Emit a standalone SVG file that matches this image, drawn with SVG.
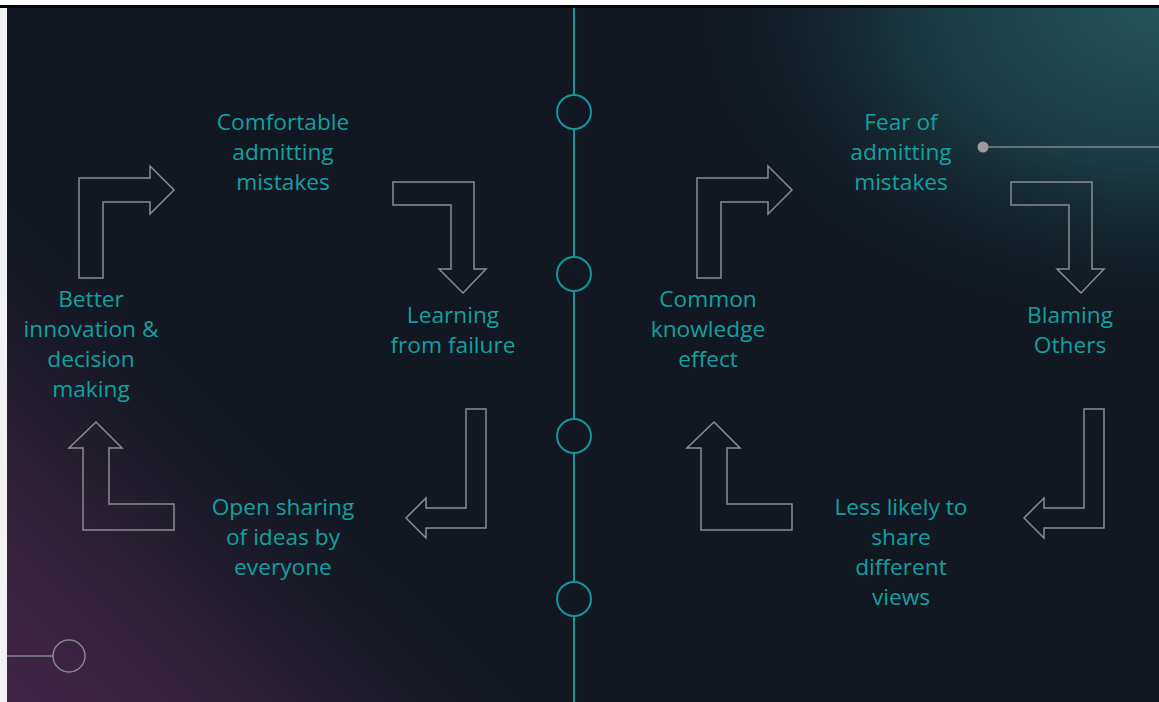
<svg xmlns="http://www.w3.org/2000/svg" width="1159" height="702" viewBox="0 0 1159 702">
  <defs>
    <radialGradient id="glowTeal" cx="1159" cy="8" r="500" gradientUnits="userSpaceOnUse" gradientTransform="translate(1159 8) scale(1 0.68) translate(-1159 -8)">
      <stop offset="0" stop-color="#235459"/>
      <stop offset="0.45" stop-color="#1b3c44"/>
      <stop offset="1" stop-color="#111822" stop-opacity="0"/>
    </radialGradient>
    <linearGradient id="glowPurple" x1="7" y1="702" x2="300" y2="400" gradientUnits="userSpaceOnUse">
      <stop offset="0" stop-color="#422647"/>
      <stop offset="0.45" stop-color="#2c1f33"/>
      <stop offset="1" stop-color="#111822" stop-opacity="0"/>
    </linearGradient>
    <style>
      .lbl { font-family: "Open Sans", "Noto Sans", sans-serif; font-size: 22.7px; fill: #13a0a1; text-anchor: middle; }
      .arrow { fill: none; stroke: #8a8d92; stroke-width: 1.5; stroke-linejoin: miter; }
      .hub { fill: #111822; stroke: #13979b; stroke-width: 2; }
      .accent { fill: none; stroke: #85878c; stroke-width: 1.5; }
    </style>
    <path id="bendUpRight" d="M79,278 L79,178 L150,178 L150,166 L174,190 L150,214 L150,202 L103,202 L103,278 Z"/>
    <path id="bendRightDown" d="M393,182 L474,182 L474,269 L486,269 L463,293 L439,269 L451,269 L451,205 L393,205 Z"/>
    <path id="bendDownLeft" d="M466,409 L486,409 L486,528 L426,528 L426,538 L406,518 L426,498 L426,508 L466,508 Z"/>
    <path id="bendLeftUp" d="M96,422 L122,448 L109,448 L109,504 L174,504 L174,530 L83,530 L83,448 L69,448 Z"/>
  </defs>

  <!-- page frame -->
  <rect x="0" y="0" width="1159" height="702" fill="#f2f2f2"/>
  <rect x="0" y="0" width="1159" height="6" fill="#ffffff"/>
  <rect x="0" y="5" width="1159" height="3" fill="#050505"/>

  <!-- slide background -->
  <rect x="7" y="8" width="1152" height="694" fill="#111822"/>
  <rect x="7" y="8" width="1152" height="694" fill="url(#glowTeal)"/>
  <rect x="7" y="8" width="1152" height="694" fill="url(#glowPurple)"/>

  <!-- decorative accents -->
  <g id="accents">
    <line x1="7" y1="656" x2="53" y2="656" class="accent"/>
    <circle cx="69" cy="656" r="16" class="accent"/>
    <line x1="983" y1="147" x2="1159" y2="147" class="accent"/>
    <circle cx="983" cy="147" r="5.5" fill="#9a9b9e"/>
  </g>

  <!-- connectors: the central spine and the cycle arrows -->
  <g id="connectors">
    <line x1="574" y1="8" x2="574" y2="702" stroke="#13979b" stroke-width="2"/>
    <g id="cycle-left">
      <use href="#bendUpRight" class="arrow"/>
      <use href="#bendRightDown" class="arrow"/>
      <use href="#bendDownLeft" class="arrow"/>
      <use href="#bendLeftUp" class="arrow"/>
    </g>
    <g id="cycle-right" transform="translate(618 0)">
      <use href="#bendUpRight" class="arrow"/>
      <use href="#bendRightDown" class="arrow"/>
      <use href="#bendDownLeft" class="arrow"/>
      <use href="#bendLeftUp" class="arrow"/>
    </g>
  </g>

  <!-- spine hubs -->
  <g id="hub-1"><circle cx="574" cy="112" r="17" class="hub"/></g>
  <g id="hub-2"><circle cx="574" cy="274" r="17" class="hub"/></g>
  <g id="hub-3"><circle cx="574" cy="436" r="17" class="hub"/></g>
  <g id="hub-4"><circle cx="574" cy="599" r="17" class="hub"/></g>

  <!-- left cycle nodes -->
  <g id="node-comfortable">
    <text class="lbl" x="283" y="130">Comfortable</text>
    <text class="lbl" x="283" y="160">admitting</text>
    <text class="lbl" x="283" y="190">mistakes</text>
  </g>
  <g id="node-learning">
    <text class="lbl" x="453" y="323">Learning</text>
    <text class="lbl" x="453" y="353">from failure</text>
  </g>
  <g id="node-open-sharing">
    <text class="lbl" x="283" y="515">Open sharing</text>
    <text class="lbl" x="283" y="545">of ideas by</text>
    <text class="lbl" x="283" y="575">everyone</text>
  </g>
  <g id="node-better">
    <text class="lbl" x="91" y="307">Better</text>
    <text class="lbl" x="91" y="337">innovation &amp;</text>
    <text class="lbl" x="91" y="367">decision</text>
    <text class="lbl" x="91" y="397">making</text>
  </g>

  <!-- right cycle nodes -->
  <g id="node-fear">
    <text class="lbl" x="901" y="130">Fear of</text>
    <text class="lbl" x="901" y="160">admitting</text>
    <text class="lbl" x="901" y="190">mistakes</text>
  </g>
  <g id="node-blaming">
    <text class="lbl" x="1070" y="323">Blaming</text>
    <text class="lbl" x="1070" y="353">Others</text>
  </g>
  <g id="node-less-likely">
    <text class="lbl" x="901" y="515">Less likely to</text>
    <text class="lbl" x="901" y="545">share</text>
    <text class="lbl" x="901" y="575">different</text>
    <text class="lbl" x="901" y="605">views</text>
  </g>
  <g id="node-common">
    <text class="lbl" x="708" y="307">Common</text>
    <text class="lbl" x="708" y="337">knowledge</text>
    <text class="lbl" x="708" y="367">effect</text>
  </g>
</svg>
